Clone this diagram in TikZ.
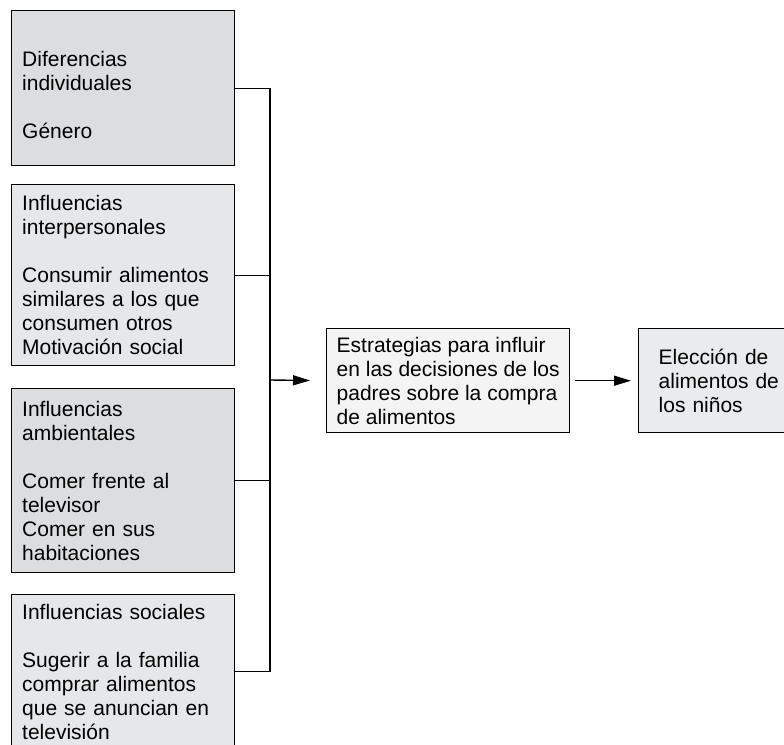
\documentclass[tikz,border=0pt]{standalone}
\usepackage{fontspec}
\setmainfont{Liberation Sans}
\usetikzlibrary{arrows.meta}
\definecolor{darkfill}{RGB}{220,221,223}
\definecolor{lightfill}{RGB}{230,231,233}
\definecolor{stratfill}{RGB}{244,244,244}
\definecolor{elecfill}{RGB}{234,235,237}

\begin{document}
\begin{tikzpicture}[
  x=1pt, y=-1pt,
  every node/.style={font=\fontsize{21}{24}\selectfont},
  factor/.style={rectangle,draw,line width=1.4pt,anchor=north west,text width=202pt,inner xsep=10.5pt,inner ysep=0pt,align=left},
  conn/.style={line width=1.4pt},
  arr/.style={line width=1.4pt,-{Triangle[length=17pt,width=10pt]}}
]
  \useasboundingbox (0,0) rectangle (784,744);

  % factores de la izquierda
  \node[factor,fill=darkfill,minimum height=155pt] (f1) at (11,10)
    {\rule{0pt}{29pt}Diferencias\\individuales\\[24pt]Género};
  \node[factor,fill=lightfill,minimum height=181pt] (f2) at (11,184)
    {Influencias\\interpersonales\\[24pt]Consumir alimentos\\similares a los que\\consumen otros\\Motivación social};
  \node[factor,fill=darkfill,minimum height=184pt] (f3) at (11,388)
    {Influencias\\ambientales\\[24pt]Comer frente al\\televisor\\Comer en sus\\habitaciones};
  \node[factor,fill=lightfill,minimum height=154pt] (f4) at (11,594)
    {Influencias sociales\\[24pt]Sugerir a la familia\\comprar alimentos\\que se anuncian en\\televisión};

  % estrategias y eleccion
  \node[rectangle,draw,line width=1.4pt,fill=stratfill,anchor=north west,align=left,
        inner xsep=10pt,inner ysep=0pt,minimum height=104pt] (estr) at (326,328)
    {Estrategias para influir\\en las decisiones de los\\padres sobre la compra\\de alimentos};
  \node[rectangle,draw,line width=1.4pt,fill=elecfill,anchor=north west,align=left,
        text width=150pt,inner xsep=20pt,inner ysep=0pt,minimum height=104pt] (elec) at (638,328)
    {Elección de\\alimentos de\\los niños};

  % conectores
  \coordinate (jn) at (270,380);
  \foreach \i in {1,...,4}
    \draw[conn] (f\i.east) -- (f\i.east -| jn);
  \draw[conn] (f1.east -| jn) -- (f4.east -| jn);
  \draw[arr,shorten >=16pt] (jn) -- (estr.west);
  \draw[arr,shorten <=5pt,shorten >=7pt] (estr.east) -- (elec.west);
\end{tikzpicture}
\end{document}
